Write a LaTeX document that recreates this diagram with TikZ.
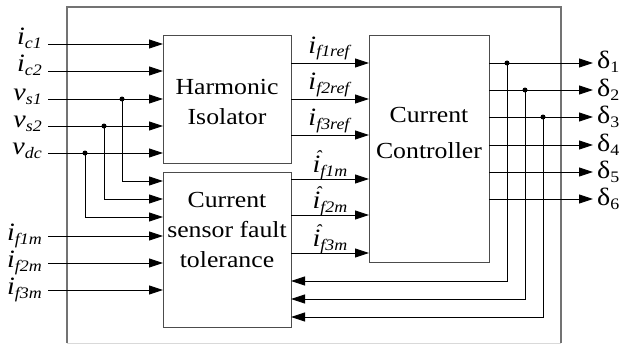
\documentclass[tikz,border=0pt]{standalone}
\usepackage{fontspec}
\setmainfont{Liberation Serif}[FakeStretch=1.12]
\usetikzlibrary{arrows.meta}

% signal name with an italic subscript
\newcommand\sv[2]{\textit{#1}\raisebox{-4pt}{\fontsize{16}{16}\selectfont\textit{#2}}}
% italic i carrying a small circumflex above its dot
\newcommand\hati{\makebox[0pt][l]{\hspace{2.8pt}\raisebox{10pt}{\fontsize{17}{17}\selectfont\char"02C6}}\textit{i}}
% switching signal delta_k
\newcommand\dl[1]{δ\raisebox{-4pt}{\fontsize{16}{16}\selectfont #1}}

\begin{document}
\begin{tikzpicture}[x=1pt,y=-1pt,
  blk/.style={draw=black!70, line width=1pt, inner sep=0pt, anchor=north west},
  wire/.style={line width=0.9pt},
  arr/.style={wire, -{Triangle[length=14pt,width=9pt]}},
  jdot/.style={circle, fill, inner sep=0pt, minimum size=5pt},
  blktxt/.style={font=\fontsize{23}{27}\selectfont, anchor=base, inner sep=0pt},
  sig/.style={font=\fontsize{25}{27}\selectfont, inner sep=0pt}]
\useasboundingbox (0,0) rectangle (621,345);

% enclosing frame
\draw[black!55, line width=1.1pt] (67,343) -- (67,7) -- (561,7) -- (561,343);
\draw[black!15, line width=1pt] (67,343) -- (561,343);

% blocks
\node[blk, minimum width=128pt, minimum height=128pt] (hi) at (163,35) {};
\node[blk, minimum width=128pt, minimum height=155pt] (csf) at (163,172) {};
\node[blk, minimum width=120pt, minimum height=227pt] (cc) at (369,35) {};

\node[blktxt] (hiA) at (227,94) {Harmonic};
\node[blktxt] (hiB) at (227,124) {Isolator};
\node[blktxt] (csA) at (227,207) {Current};
\node[blktxt] (csB) at (227,237) {sensor fault};
\node[blktxt] (csC) at (227,267) {tolerance};
\node[blktxt] (ccA) at (429,122) {Current};
\node[blktxt] (ccB) at (429,158) {Controller};

% measured inputs to the harmonic isolator
\node[sig, anchor=base east] (Lic1) at (42,45) {\sv{i}{c1}};
\node[sig, anchor=base east] (Lic2) at (42,72) {\sv{i}{c2}};
\node[sig, anchor=base east] (Lvs1) at (42,100) {\sv{v}{s1}};
\node[sig, anchor=base east] (Lvs2) at (42,127) {\sv{v}{s2}};
\node[sig, anchor=base east] (Lvdc) at (42,154) {\sv{v}{dc}};
\coordinate (a1) at (48,44);
\coordinate (a2) at (48,71);
\coordinate (a3) at (48,99);
\coordinate (a4) at (48,126);
\coordinate (a5) at (48,153);
\foreach \p in {a1,a2,a3,a4,a5} \draw[arr] (\p) -- (\p -| hi.west);

% voltages branched to the fault tolerance block
\node[jdot] (j1) at (122,99) {};
\node[jdot] (j2) at (104,126) {};
\node[jdot] (j3) at (85,153) {};
\coordinate (b1) at (163,181);
\coordinate (b2) at (163,199);
\coordinate (b3) at (163,217);
\draw[arr] (j1.center) |- (b1);
\draw[arr] (j2.center) |- (b2);
\draw[arr] (j3.center) |- (b3);

% measured filter currents
\node[sig, anchor=base east] (Lf1) at (42,240) {\sv{i}{f1m}};
\node[sig, anchor=base east] (Lf2) at (42,267) {\sv{i}{f2m}};
\node[sig, anchor=base east] (Lf3) at (42,294) {\sv{i}{f3m}};
\coordinate (m1) at (48,236);
\coordinate (m2) at (48,263);
\coordinate (m3) at (48,290);
\foreach \p in {m1,m2,m3} \draw[arr] (\p) -- (\p -| csf.west);

% reference currents
\coordinate (r1) at (291,63);
\coordinate (r2) at (291,99);
\coordinate (r3) at (291,135);
\foreach \p in {r1,r2,r3} \draw[arr] (\p) -- (\p -| cc.west);
\node[sig, anchor=base] (Lr1) at (330,53) {\sv{i}{f1ref}};
\node[sig, anchor=base] (Lr2) at (330,89) {\sv{i}{f2ref}};
\node[sig, anchor=base] (Lr3) at (330,125) {\sv{i}{f3ref}};

% estimated currents
\coordinate (h1) at (291,179);
\coordinate (h2) at (291,215);
\coordinate (h3) at (291,253);
\foreach \p in {h1,h2,h3} \draw[arr] (\p) -- (\p -| cc.west);
\node[sig, anchor=base] (Lh1) at (330,172) {\sv{\hati}{f1m}};
\node[sig, anchor=base] (Lh2) at (330,208) {\sv{\hati}{f2m}};
\node[sig, anchor=base] (Lh3) at (330,246) {\sv{\hati}{f3m}};

% switching signals
\coordinate (o1) at (489,63);
\coordinate (o2) at (489,90);
\coordinate (o3) at (489,117);
\coordinate (o4) at (489,145);
\coordinate (o5) at (489,172);
\coordinate (o6) at (489,199);
\foreach \p in {o1,o2,o3,o4,o5,o6} \draw[arr] (\p) -- ++(104,0);
\node[sig, anchor=base west] (D1) at (597,69) {\dl{1}};
\node[sig, anchor=base west] (D2) at (597,96) {\dl{2}};
\node[sig, anchor=base west] (D3) at (597,123) {\dl{3}};
\node[sig, anchor=base west] (D4) at (597,151) {\dl{4}};
\node[sig, anchor=base west] (D5) at (597,178) {\dl{5}};
\node[sig, anchor=base west] (D6) at (597,205) {\dl{6}};

% feedback of the switching signals
\node[jdot] (k1) at (507,63) {};
\node[jdot] (k2) at (525,90) {};
\node[jdot] (k3) at (543,117) {};
\coordinate (g1) at (291,281);
\coordinate (g2) at (291,299);
\coordinate (g3) at (291,317);
\draw[arr] (k1.center) |- (g1);
\draw[arr] (k2.center) |- (g2);
\draw[arr] (k3.center) |- (g3);
\end{tikzpicture}
\end{document}
